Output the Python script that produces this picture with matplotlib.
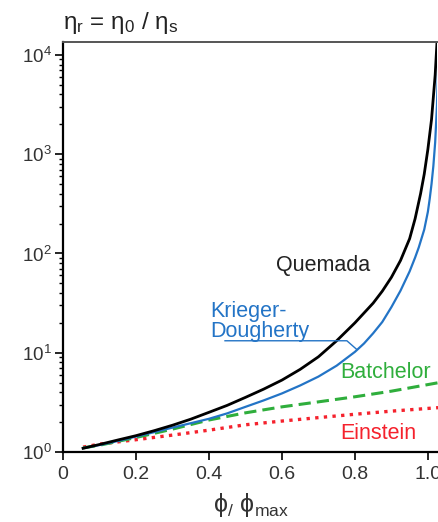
import matplotlib
matplotlib.use("Agg")
import matplotlib.pyplot as plt

plt.rcParams["font.family"] = ["Liberation Sans", "DejaVu Sans"]
plt.rcParams["mathtext.default"] = "regular"

# values (x = phi / phi_max, y = eta_r)
quemada_x = [0.055, 0.1, 0.15, 0.2, 0.25, 0.3, 0.35, 0.4, 0.45, 0.5, 0.55,
             0.6, 0.65, 0.7, 0.75, 0.8, 0.85, 0.875, 0.9, 0.925, 0.95,
             0.965, 0.98, 0.99, 1.0, 1.01, 1.02, 1.025]
quemada_y = [1.09, 1.19, 1.32, 1.46, 1.64, 1.86, 2.14, 2.51, 2.95, 3.55, 4.3,
             5.3, 6.8, 9.1, 13.2, 20, 31.6, 41.7, 57.5, 85, 141,
             224, 400, 630, 1120, 2240, 6300, 13500]

kd_x = [0.055, 0.1, 0.15, 0.2, 0.25, 0.3, 0.35, 0.4, 0.45, 0.5, 0.55,
        0.6, 0.65, 0.7, 0.75, 0.8, 0.825, 0.85, 0.875, 0.9, 0.925, 0.95,
        0.965, 0.975, 0.99, 1.0, 1.005, 1.01, 1.015, 1.02, 1.025, 1.03]
kd_y = [1.096, 1.175, 1.29, 1.43, 1.585, 1.76, 1.95, 2.16, 2.45, 2.85, 3.31,
        3.89, 4.68, 5.75, 7.41, 10.2, 12.4, 15.7, 20.4, 28.8, 42.2, 66,
        91, 115, 174, 263, 355, 501, 759, 1318, 3162, 15850]

batchelor_x = [0.055, 0.1, 0.2, 0.3, 0.4, 0.5, 0.6, 0.7, 0.8, 0.9, 1.03]
batchelor_y = [1.10, 1.17, 1.40, 1.70, 2.10, 2.48, 2.85, 3.2, 3.6, 4.1, 5.0]

einstein_x = [0.055, 0.1, 0.2, 0.3, 0.4, 0.5, 0.6, 0.7, 0.8, 0.9, 1.03]
einstein_y = [1.12, 1.20, 1.33, 1.48, 1.66, 1.88, 2.05, 2.22, 2.4, 2.58, 2.8]

x_ticks = [0, 0.2, 0.4, 0.6, 0.8, 1.0]
x_ticklabels = ["0", "0.2", "0.4", "0.6", "0.8", "1.0"]

black = "#000000"
blue = "#2374c6"
green = "#2fae3c"
red = "#f5222d"

fig = plt.figure(figsize=(4.39, 5.22), dpi=100)
ax = fig.add_axes([63 / 439, 70 / 522, 374 / 439, 410 / 522])

ax.plot(einstein_x, einstein_y, color=red, linewidth=2.4,
        linestyle=(0, (1, 1.6)), clip_on=False)
ax.plot(batchelor_x, batchelor_y, color=green, linewidth=2.2,
        linestyle=(0, (4, 2)), clip_on=False)
ax.plot(kd_x, kd_y, color=blue, linewidth=1.6)
ax.plot(quemada_x, quemada_y, color=black, linewidth=2.0)

# pointer line under "Dougherty"
ax.plot([0.444, 0.778, 0.805], [13.2, 13.2, 10.8], color=blue, linewidth=1.0)

ax.set_yscale("log")
ax.set_xlim(0, 1.025)
ax.set_ylim(1, 13500)

ax.set_xticks(x_ticks)
ax.set_xticklabels(x_ticklabels)
ax.tick_params(axis="x", direction="out", length=6, width=1.2,
               labelsize=14, labelcolor="#333333", pad=4)
ax.tick_params(axis="y", which="major", direction="out", length=6, width=1.2,
               labelsize=13.5, labelcolor="#333333", pad=2)
ax.tick_params(axis="y", which="minor", direction="out", length=3, width=1.0)

ax.spines["right"].set_visible(False)
ax.spines["left"].set_linewidth(1.6)
ax.spines["bottom"].set_linewidth(1.6)
ax.spines["top"].set_linewidth(1.4)
ax.spines["top"].set_color("#555555")

ax.text(0.712, 76, "Quemada", color="#222222", fontsize=15.5,
        ha="center", va="center")
ax.text(0.403, 33, "Krieger-\nDougherty", color=blue, fontsize=15.5,
        ha="left", va="top", linespacing=0.95)
ax.text(0.885, 6.3, "Batchelor", color=green, fontsize=15.5,
        ha="center", va="center")
ax.text(0.863, 1.52, "Einstein", color=red, fontsize=15.5,
        ha="center", va="center")

fig.text(63 / 439, 1 - 23 / 522, r"$\mathregular{η_r}$ = $\mathregular{η_0}$ / $\mathregular{η_s}$",
         fontsize=17.5, color="#222222", ha="left", va="center")
fig.text(251 / 439, 1 - 505 / 522, r"ϕ$_{/}$ ϕ$_{max}$",
         fontsize=18, color="#333333", ha="center", va="center")

fig.savefig("out.png", dpi=100)
